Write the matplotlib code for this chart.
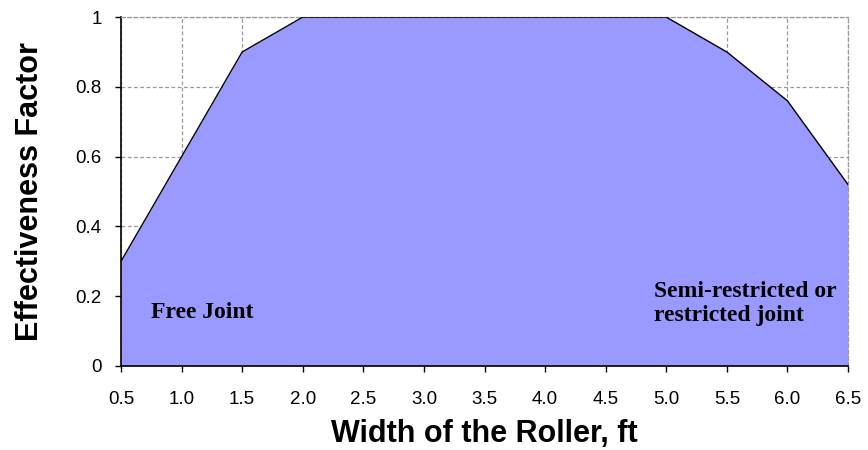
import numpy as np
import matplotlib
matplotlib.use('Agg')
import matplotlib.pyplot as plt

# roller width (ft) and effectiveness factor
width_ft = [0.5, 1.0, 1.5, 2.0, 2.5, 3.0, 3.5, 4.0, 4.5, 5.0, 5.5, 6.0, 6.5]
effectiveness = [0.3, 0.6, 0.9, 1.0, 1.0, 1.0, 1.0, 1.0, 1.0, 1.0, 0.9, 0.76, 0.52]
x_ticks = [0.5, 1.0, 1.5, 2.0, 2.5, 3.0, 3.5, 4.0, 4.5, 5.0, 5.5, 6.0, 6.5]
y_ticks = [0, 0.2, 0.4, 0.6, 0.8, 1.0]
y_ticklabels = ['0', '0.2', '0.4', '0.6', '0.8', '1']

plt.rcParams['font.family'] = ['Liberation Sans', 'DejaVu Sans']

fig = plt.figure(figsize=(8.68, 4.5), dpi=100)
ax = fig.add_axes([0.1394, 0.1867, 0.977 - 0.1394, 0.962 - 0.1867])

ax.fill_between(width_ft, effectiveness, 0, color='#9999ff', zorder=2, linewidth=0)
ax.plot(width_ft, effectiveness, color='black', linewidth=1.0, zorder=3)

ax.set_xlim(0.5, 6.5)
ax.set_ylim(0, 1)
ax.set_xticks(x_ticks)
ax.set_xticklabels(['%.1f' % v for v in x_ticks])
ax.set_yticks(y_ticks)
ax.set_yticklabels(y_ticklabels)
ax.tick_params(axis='both', direction='out', length=4, width=1, labelsize=13.5)
ax.tick_params(axis='x', pad=14)
ax.tick_params(axis='y', pad=10)

# dashed grey grid, plot frame only on left and bottom
ax.grid(True, color='#999999', linestyle=(0, (3, 2)), linewidth=0.9, zorder=1)
ax.set_axisbelow(True)
ax.spines['left'].set_linewidth(1.2)
ax.spines['bottom'].set_linewidth(1.2)
for side in ['top', 'right']:
    ax.spines[side].set_color('#999999')
    ax.spines[side].set_linestyle((0, (3, 2)))
    ax.spines[side].set_linewidth(0.9)

ax.set_xlabel('Width of the Roller, ft', fontsize=22, fontweight='bold', labelpad=8)
ax.set_ylabel('Effectiveness Factor', fontsize=22, fontweight='bold', labelpad=22)

ax.text(0.748, 0.153, 'Free Joint', family='Liberation Serif', fontweight='bold',
        fontsize=17, va='center', ha='left', zorder=4)
ax.text(4.9, 0.18, 'Semi-restricted or\nrestricted joint', family='Liberation Serif',
        fontweight='bold', fontsize=17, va='center', ha='left', linespacing=1.2, zorder=4)

plt.savefig('out.png', dpi=100)
plt.close()
